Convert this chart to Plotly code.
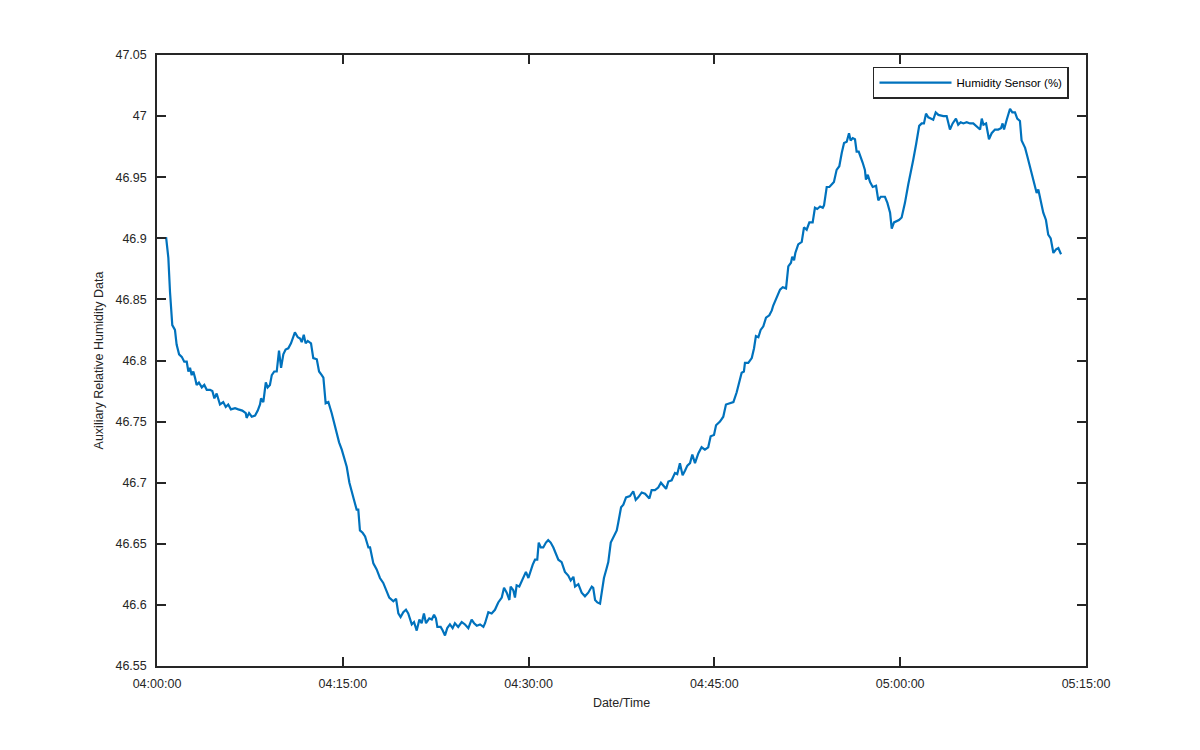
import pandas as pd
import plotly.graph_objects as go

# Seconds after 04:00:00 for each sample
seconds = [
    44, 55, 63, 74, 87, 95, 107, 120, 132, 144, 152, 160, 168, 176, 184, 192, 203, 217, 229, 241,
    257, 268, 278, 289, 305, 321, 333, 345, 358, 378, 394, 413, 430, 434, 446, 459, 475, 488, 499, 504,
    515, 527, 536, 547, 556, 568, 580, 591, 601, 612, 623, 636, 649, 668, 682, 693, 701, 711, 720, 730,
    746, 757, 774, 785, 798, 806, 817, 830, 846, 862, 870, 882, 895, 906, 919, 932, 943, 954, 967, 975,
    983, 996, 1008, 1024, 1032, 1048, 1064, 1080, 1096, 1109, 1125, 1145, 1158, 1169, 1180, 1193, 1206, 1217, 1234, 1245,
    1258, 1271, 1282, 1293, 1303, 1319, 1331, 1342, 1351, 1358, 1374, 1384, 1395, 1406, 1419, 1432, 1443, 1459, 1476, 1492,
    1508, 1524, 1536, 1549, 1565, 1581, 1589, 1605, 1621, 1637, 1653, 1670, 1681, 1694, 1707, 1713, 1726, 1734, 1742, 1755,
    1767, 1778, 1787, 1799, 1807, 1820, 1831, 1842, 1849, 1859, 1871, 1884, 1895, 1907, 1920, 1933, 1944, 1960, 1976, 1992,
    2004, 2017, 2025, 2041, 2057, 2073, 2089, 2106, 2113, 2122, 2133, 2146, 2154, 2165, 2178, 2186, 2198, 2210, 2227, 2234,
    2248, 2259, 2272, 2291, 2307, 2319, 2331, 2348, 2364, 2385, 2396, 2412, 2428, 2441, 2453, 2466, 2477, 2493, 2509, 2520,
    2533, 2546, 2558, 2569, 2582, 2593, 2606, 2622, 2638, 2654, 2670, 2682, 2698, 2708, 2727, 2743, 2756, 2776, 2792, 2808,
    2821, 2832, 2843, 2848, 2864, 2881, 2892, 2901, 2913, 2924, 2937, 2950, 2966, 2978, 2985, 3002, 3018, 3031, 3047, 3058,
    3071, 3077, 3086, 3092, 3106, 3123, 3134, 3147, 3160, 3176, 3187, 3198, 3212, 3225, 3231, 3244, 3257, 3268, 3279, 3292,
    3305, 3317, 3328, 3341, 3352, 3360, 3370, 3381, 3389, 3399, 3409, 3418, 3429, 3434, 3443, 3454, 3467, 3483, 3494, 3506,
    3526, 3538, 3551, 3559, 3570, 3583, 3594, 3607, 3623, 3639, 3651, 3663, 3677, 3692, 3704, 3715, 3725, 3736, 3748, 3760,
    3772, 3785, 3809, 3825, 3841, 3854, 3870, 3881, 3893, 3906, 3922, 3938, 3954, 3971, 3987, 3995, 4003, 4016, 4030, 4043,
    4059, 4075, 4088, 4096, 4103, 4116, 4132, 4143, 4156, 4167, 4180, 4188, 4205, 4216, 4229, 4242, 4253, 4261, 4269, 4282,
    4293, 4306, 4317, 4329, 4342, 4355, 4366, 4379,
]

humidity = [
    46.901, 46.884, 46.856, 46.829, 46.825, 46.813, 46.805, 46.803, 46.799, 46.799, 46.791, 46.794, 46.788, 46.791, 46.786, 46.780, 46.782, 46.778, 46.780, 46.776,
    46.776, 46.775, 46.769, 46.773, 46.764, 46.766, 46.762, 46.764, 46.760, 46.761, 46.760, 46.759, 46.757, 46.753, 46.757, 46.754, 46.755, 46.759, 46.764, 46.769,
    46.766, 46.782, 46.778, 46.780, 46.788, 46.791, 46.791, 46.808, 46.794, 46.805, 46.809, 46.810, 46.814, 46.823, 46.819, 46.818, 46.815, 46.821, 46.814, 46.816,
    46.814, 46.802, 46.801, 46.791, 46.788, 46.786, 46.765, 46.766, 46.757, 46.746, 46.743, 46.733, 46.727, 46.720, 46.713, 46.700, 46.692, 46.686, 46.678, 46.678,
    46.661, 46.659, 46.656, 46.647, 46.647, 46.634, 46.629, 46.622, 46.618, 46.612, 46.606, 46.603, 46.605, 46.593, 46.590, 46.594, 46.596, 46.593, 46.584, 46.586,
    46.579, 46.588, 46.585, 46.593, 46.585, 46.589, 46.588, 46.592, 46.589, 46.582, 46.582, 46.579, 46.575, 46.581, 46.584, 46.581, 46.585, 46.582, 46.586, 46.584,
    46.581, 46.588, 46.585, 46.583, 46.584, 46.582, 46.585, 46.594, 46.593, 46.596, 46.602, 46.606, 46.614, 46.610, 46.604, 46.615, 46.612, 46.606, 46.616, 46.615,
    46.620, 46.623, 46.627, 46.622, 46.627, 46.633, 46.637, 46.637, 46.651, 46.647, 46.647, 46.651, 46.653, 46.651, 46.647, 46.642, 46.637, 46.635, 46.627, 46.624,
    46.620, 46.623, 46.615, 46.617, 46.610, 46.607, 46.610, 46.615, 46.614, 46.604, 46.602, 46.601, 46.610, 46.622, 46.630, 46.635, 46.651, 46.655, 46.661, 46.667,
    46.680, 46.682, 46.688, 46.689, 46.693, 46.686, 46.688, 46.692, 46.691, 46.687, 46.694, 46.694, 46.696, 46.700, 46.698, 46.695, 46.701, 46.702, 46.708, 46.707,
    46.716, 46.706, 46.710, 46.714, 46.716, 46.723, 46.716, 46.724, 46.729, 46.727, 46.729, 46.738, 46.739, 46.747, 46.750, 46.754, 46.764, 46.765, 46.766, 46.774,
    46.782, 46.790, 46.791, 46.798, 46.798, 46.802, 46.810, 46.820, 46.819, 46.825, 46.828, 46.835, 46.837, 46.841, 46.845, 46.851, 46.858, 46.860, 46.859, 46.877,
    46.880, 46.885, 46.882, 46.888, 46.895, 46.897, 46.909, 46.907, 46.913, 46.913, 46.925, 46.924, 46.926, 46.925, 46.927, 46.942, 46.942, 46.944, 46.946, 46.956,
    46.959, 46.970, 46.978, 46.979, 46.986, 46.980, 46.982, 46.981, 46.971, 46.971, 46.967, 46.962, 46.956, 46.948, 46.952, 46.946, 46.942, 46.943, 46.931, 46.934,
    46.934, 46.929, 46.921, 46.908, 46.913, 46.914, 46.915, 46.917, 46.929, 46.944, 46.953, 46.964, 46.977, 46.992, 46.994, 46.994, 47.002, 46.999, 46.998, 46.997,
    47.003, 47.001, 47.000, 47.000, 46.989, 46.994, 46.998, 46.993, 46.995, 46.994, 46.995, 46.994, 46.994, 46.991, 46.989, 46.998, 46.993, 46.994, 46.981, 46.986,
    46.989, 46.989, 46.990, 46.994, 46.989, 46.997, 47.006, 47.003, 47.003, 46.998, 46.996, 46.980, 46.974, 46.967, 46.958, 46.951, 46.942, 46.937, 46.940, 46.931,
    46.921, 46.915, 46.903, 46.900, 46.888, 46.891, 46.892, 46.887,
]

y_ticks = [46.55, 46.6, 46.65, 46.7, 46.75, 46.8, 46.85, 46.9, 46.95, 47.0, 47.05]
y_tick_labels = ["46.55", "46.6", "46.65", "46.7", "46.75", "46.8", "46.85", "46.9", "46.95", "47", "47.05"]
x_tick_labels = ["04:00:00", "04:15:00", "04:30:00", "04:45:00", "05:00:00", "05:15:00"]

base = pd.Timestamp("2015-01-01 04:00:00")
times = base + pd.to_timedelta(seconds, unit="s")
x_ticks = [base + pd.Timedelta(minutes=15 * i) for i in range(len(x_tick_labels))]

AX = "#262626"
FONT = "Liberation Sans, Arial, sans-serif"

fig = go.Figure()
fig.add_trace(go.Scatter(
    x=times, y=humidity, mode="lines", name="Humidity Sensor (%)",
    line=dict(color="#0072BD", width=2.2),
))

fig.update_layout(
    width=1200, height=750,
    paper_bgcolor="white", plot_bgcolor="white",
    margin=dict(l=149, r=122, t=47, b=92),
    font=dict(family=FONT, size=12.5, color=AX),
    showlegend=True,
    legend=dict(
        x=0.9817, y=0.981, xanchor="right", yanchor="top",
        bgcolor="white", bordercolor=AX, borderwidth=1.5,
        font=dict(family=FONT, size=11.5, color="black"),
        itemwidth=72, tracegroupgap=0,
    ),
)

fig.update_xaxes(
    range=[base, base + pd.Timedelta(minutes=75)],
    tickvals=x_ticks, ticktext=x_tick_labels,
    showline=True, linecolor=AX, linewidth=1.5, mirror="ticks",
    ticks="inside", ticklen=9, tickwidth=1.5, tickcolor=AX,
    showgrid=False, zeroline=False,
    title=dict(text="Date/Time", font=dict(family=FONT, size=12.5, color=AX), standoff=8),
    tickfont=dict(family=FONT, size=12.5, color=AX),
    ticklabelstandoff=5,
)
fig.update_yaxes(
    range=[46.55, 47.05],
    tickvals=y_ticks, ticktext=y_tick_labels,
    showline=True, linecolor=AX, linewidth=1.5, mirror="ticks",
    ticks="inside", ticklen=9, tickwidth=1.5, tickcolor=AX,
    showgrid=False, zeroline=False,
    title=dict(text="Auxiliary Relative Humidity Data", font=dict(family=FONT, size=12.5, color=AX), standoff=9),
    tickfont=dict(family=FONT, size=12.5, color=AX),
    ticklabelstandoff=6,
)

fig.write_html("out.html")
